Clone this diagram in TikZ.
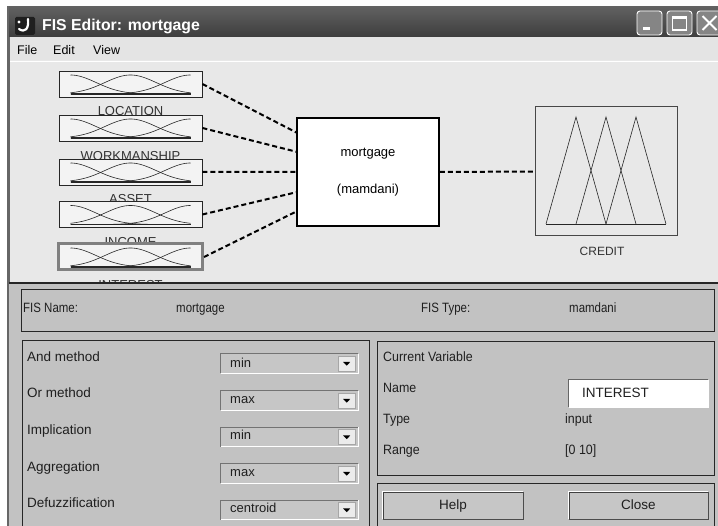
\documentclass[tikz,border=0pt]{standalone}
\usepackage{fontspec}
\setmainfont{Liberation Sans}
\newfontfamily\narrowui[FakeStretch=0.85]{Liberation Sans}
\newfontfamily\midui[FakeStretch=0.92]{Liberation Sans}
\usetikzlibrary{calc}

\definecolor{menubg}{HTML}{E4E4E4}
\definecolor{canvas}{HTML}{E8E8E8}
\definecolor{panelbg}{HTML}{C2C2C2}
\definecolor{boxbg}{HTML}{F3F3F3}
\definecolor{edge}{HTML}{262626}
\definecolor{selgray}{HTML}{808080}
\definecolor{btnface}{HTML}{C6C6C6}

% three gaussian membership functions over the variable range
\newcommand\mfplots[1]{%
  \begin{scope}[shift={(#1.center)}]
    \foreach \c in {-60,0,60}{
      \draw[mfline] plot[domain=-60:60,samples=61,variable=\u]
        ({\u},{10-19*exp(-((\u-\c)*(\u-\c))/1298.6)});
    }
    \draw[line width=1.3pt,edge] (-60,10) -- (60,10);
  \end{scope}}

% combo box with its arrow button
\newcommand\fisdrop[4]{% name, centre y, text baseline, text
  \node[dropbox] (#1) at (289.5,#2) {};
  \draw[black!55,line width=0.8pt] (#1.south west) -- (#1.north west) -- (#1.north east);
  \draw[white,line width=1pt] (#1.south west) -- (#1.south east) -- (#1.north east);
  \node[arrowbtn] (#1b) at ($(#1.east)+(-11.5,0)$) {};
  \fill[black] ($(#1b.center)+(-3.5,-1.5)$) -- ($(#1b.center)+(3.5,-1.5)$) -- ($(#1b.center)+(0,2.2)$) -- cycle;
  \node[droptext] (#1t) at (230,#3) {#4};}

% raised push button
\newcommand\fisbutton[5]{% name, x1, x2, label, label name
  \node[pushbtn, minimum width=#3-#2] (#1) at ({(#2+#3)/2},505.5) {};
  \draw[white,line width=1pt] (#1.south west) -- (#1.north west) -- (#1.north east);
  \draw[black!70,line width=1pt] (#1.south west) -- (#1.south east) -- (#1.north east);
  \node[btntext] (#5) at ({(#2+#3)/2},510) {#4};}

\begin{document}
\begin{tikzpicture}[x=1pt,y=-1pt,
  mfbox/.style={draw=edge,line width=0.8pt,fill=boxbg,minimum width=143pt,minimum height=26pt,inner sep=0pt},
  selbox/.style={draw=selgray,line width=3pt,fill=boxbg,minimum width=144pt,minimum height=26pt,inner sep=0pt},
  mfline/.style={draw=edge,line width=0.6pt},
  varlabel/.style={font=\fontsize{13}{15}\selectfont,text=black!80,inner sep=0pt,anchor=base},
  wire/.style={draw=black,line width=2pt,dash pattern=on 5pt off 3pt},
  panel/.style={draw=edge,line width=1pt,fill=panelbg},
  lbltext/.style={font=\fontsize{13.5}{16}\selectfont,text=black!88,inner sep=0pt,anchor=base west},
  rowtext/.style={font=\narrowui\fontsize{13.5}{16}\selectfont,text=black!88,inner sep=0pt,anchor=base west},
  vartext/.style={font=\midui\fontsize{13.5}{16}\selectfont,text=black!88,inner sep=0pt,anchor=base west},
  droptext/.style={font=\fontsize{13}{15}\selectfont,text=black!88,inner sep=0pt,anchor=base west},
  dropbox/.style={fill=btnface,minimum width=137pt,minimum height=19pt,inner sep=0pt},
  arrowbtn/.style={fill=black!8,draw=black!35,line width=0.5pt,minimum width=17pt,minimum height=15pt,inner sep=0pt},
  pushbtn/.style={fill=btnface,draw=black!75,line width=0.6pt,minimum height=27pt,inner sep=0pt},
  btntext/.style={font=\fontsize{13.5}{16}\selectfont,text=black!88,inner sep=0pt,anchor=base},
  winbtn/.style={fill=black!48,draw=white!85,line width=0.9pt,rounded corners=3pt,minimum width=25pt,minimum height=24pt,inner sep=0pt}
]
\useasboundingbox (0,0) rectangle (718,526);
\fill[white] (0,0) rectangle (718,526);

% ---------- window frame, title bar and menu ----------
\fill[black!60] (7,6) rectangle (718,526);
\shade[top color=black!62,bottom color=black!76] (9,7) rectangle (718,37);
\fill[menubg] (10,37) rectangle (718,60);
\fill[canvas] (10,60) rectangle (718,283);
\draw[white,line width=0.8pt] (10,61) -- (718,61);

% application icon
\node[fill=black!88,rounded corners=1.5pt,minimum width=20pt,minimum height=18pt,inner sep=0pt] (appicon) at (25,26) {};
\draw[white,line width=2.2pt,line cap=round] ($(appicon.center)+(3,-7)$) .. controls ($(appicon.center)+(4,3)$) and ($(appicon.center)+(0,7)$) .. ($(appicon.center)+(-6,3)$);
\fill[white] ($(appicon.center)+(-6,-4)$) circle (1.6pt);

\node[font=\bfseries\fontsize{15.8}{18}\selectfont,text=white,inner sep=0pt,anchor=base west] (title) at (42,30.5) {FIS Editor: mortgage};

% caption buttons
\node[winbtn] (minbtn) at (649.5,23) {};
\fill[white] ($(minbtn.center)+(-7,4)$) rectangle ($(minbtn.center)+(0,7.5)$);
\node[winbtn] (maxbtn) at (679.5,23) {};
\draw[white,line width=1.2pt] ($(maxbtn.center)+(-7,-6)$) rectangle ($(maxbtn.center)+(7,7)$);
\fill[white] ($(maxbtn.center)+(-7,-6)$) rectangle ($(maxbtn.center)+(7,-3.5)$);
\node[winbtn] (closebtn) at (709.5,23) {};
\draw[white,line width=2pt] ($(closebtn.center)+(-7,-7)$) -- ($(closebtn.center)+(7,7)$)
                            ($(closebtn.center)+(-7,7)$) -- ($(closebtn.center)+(7,-7)$);

\node[font=\fontsize{12.5}{15}\selectfont,inner sep=0pt,anchor=base west] (mfile) at (17,55) {File};
\node[font=\fontsize{12.5}{15}\selectfont,inner sep=0pt,anchor=base west] (medit) at (53,55) {Edit};
\node[font=\fontsize{12.5}{15}\selectfont,inner sep=0pt,anchor=base west] (mview) at (93,55) {View};

% ---------- input variable names (partly hidden by the next box) ----------
\node[varlabel] (lblloc)  at (130.5,116) {LOCATION};
\node[varlabel] (lblwork) at (130.5,160.5) {WORKMANSHIP};
\node[varlabel] (lblasset) at (130.5,204) {ASSET};
\node[varlabel] (lblinc)  at (130.5,246.5) {INCOME};
\node[varlabel] (lblint)  at (130.5,290) {INTEREST};

% ---------- input variables ----------
\node[mfbox]  (loc)   at (130.5,84)  {};
\node[mfbox]  (work)  at (130.5,128) {};
\node[mfbox]  (asset) at (130.5,172) {};
\node[mfbox]  (inc)   at (130.5,214.5) {};
\node[selbox] (int)   at (130.5,257) {};
\mfplots{loc}\mfplots{work}\mfplots{asset}\mfplots{inc}\mfplots{int}

% ---------- rule block ----------
\node[draw=black,line width=1.6pt,fill=white,minimum width=142pt,minimum height=108pt,
      align=center,font=\fontsize{13}{15.6}\selectfont,inner sep=0pt] (mort) at (368,172)
      {mortgage\\[22pt](mamdani)};
\coordinate (m1) at ($(mort.north west)!0.139!(mort.south west)$);
\coordinate (m2) at ($(mort.north west)!0.315!(mort.south west)$);
\coordinate (m3) at ($(mort.north west)!0.5!(mort.south west)$);
\coordinate (m4) at ($(mort.north west)!0.685!(mort.south west)$);
\coordinate (m5) at ($(mort.north west)!0.861!(mort.south west)$);

% ---------- output variable ----------
\node[draw=edge!85,line width=1pt,fill=canvas,minimum width=142pt,minimum height=129pt,inner sep=0pt] (credit) at (606,171.5) {};
\begin{scope}[shift={(credit.center)}]
  \draw[mfline] (-60,52.5) -- (-30,-54.5) -- (0,52.5);
  \draw[mfline] (-30,52.5) -- (0,-54.5) -- (30,52.5);
  \draw[mfline] (0,52.5) -- (30,-54.5) -- (60,52.5);
  \draw[mfline] (-60,52.5) -- (60,52.5);
\end{scope}
\node[varlabel,font=\fontsize{12}{14}\selectfont] (lblcredit) at (602,255.5) {CREDIT};

% ---------- connections ----------
\draw[wire] (loc.east) -- (m1);
\draw[wire] (work.east) -- (m2);
\draw[wire] (asset.east) -- (m3);
\draw[wire] (inc.east) -- (m4);
\draw[wire] (int.east) -- (m5);
\draw[wire] (mort.east) -- (credit.west);

% ---------- lower control area ----------
\fill[panelbg] (9,283) rectangle (718,526);
\draw[edge,line width=1.2pt] (9,283) -- (718,283);

\node[panel,minimum width=693pt,minimum height=42pt,inner sep=0pt] (namepanel) at (367.5,311) {};
\node[rowtext] (fisnamelbl) at (23,313) {FIS Name:};
\node[rowtext] (fisnameval) at (176,313) {mortgage};
\node[rowtext] (fistypelbl) at (421,313) {FIS Type:};
\node[rowtext] (fistypeval) at (569,313) {mamdani};

% methods panel
\node[panel,minimum width=347pt,minimum height=190pt,inner sep=0pt] (methods) at (195.5,436) {};
\node[lbltext] (andlbl) at (27,362) {And method};
\node[lbltext] (orlbl)  at (27,398) {Or method};
\node[lbltext] (implbl) at (27,435) {Implication};
\node[lbltext] (agglbl) at (27,472) {Aggregation};
\node[lbltext] (deflbl) at (27,507.5) {Defuzzification};
\fisdrop{andsel}{363.5}{367.5}{min}
\fisdrop{orsel}{400.5}{403.5}{max}
\fisdrop{impsel}{437}{440}{min}
\fisdrop{aggsel}{473.5}{476.5}{max}
\fisdrop{defsel}{510}{513}{centroid}

% current variable panel
\node[panel,minimum width=337pt,minimum height=134pt,inner sep=0pt] (curvar) at (545.5,409) {};
\node[vartext] (cvtitle) at (383,362) {Current Variable};
\node[vartext] (cvname)  at (383,393) {Name};
\node[vartext] (cvtype)  at (383,423.5) {Type};
\node[vartext] (cvrange) at (383,454.5) {Range};
\node[fill=white,minimum width=139pt,minimum height=27pt,inner sep=0pt] (namefield) at (638.5,393.5) {};
\draw[black!60,line width=1pt] (namefield.south west) -- (namefield.north west) -- (namefield.north east);
\draw[white,line width=1pt] (namefield.south west) -- (namefield.south east) -- (namefield.north east);
\node[vartext,font=\fontsize{13.5}{16}\selectfont] (namefieldtext) at (582,397.5) {INTEREST};
\node[vartext] (cvtypeval)  at (565,423.5) {input};
\node[vartext] (cvrangeval) at (565,455) {[0 10]};

% button panel
\node[panel,minimum width=337pt,minimum height=48pt,inner sep=0pt] (btnpanel) at (545.5,508) {};
\fisbutton{helpbtn}{383}{523}{Help}{helptext}
\fisbutton{closebtn2}{569}{708}{Close}{closetext}

\end{tikzpicture}
\end{document}
